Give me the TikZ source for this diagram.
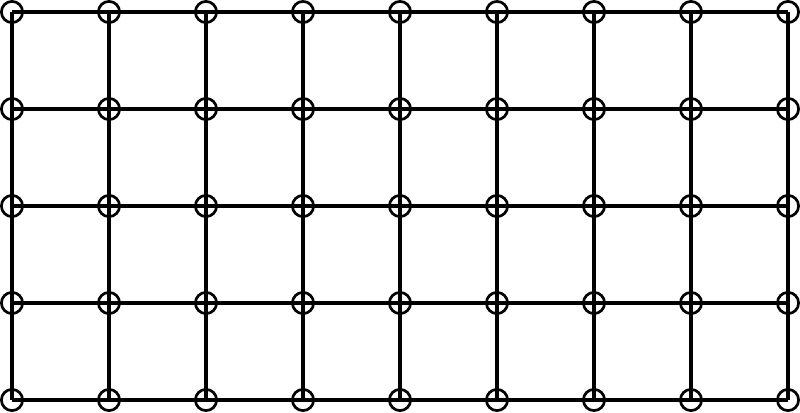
\documentclass[tikz,border=0pt]{standalone}
\usepackage{tikz}

\tikzset{
  site/.style={circle, draw, line width=1.9pt, inner sep=0pt, minimum size=0.53cm},
  bond/.style={line width=2.85pt}
}

\begin{document}
\begin{tikzpicture}
      \useasboundingbox (0,0) rectangle (20,10.3);
      % Define nodes
      \foreach \i in {0,...,8} {
        \foreach \j in {0,...,4} {
          \node[site] (s-\i-\j) at ({0.3+2.425*\i}, {0.3+2.425*\j}) {};
        }
      }
      % Connect the nodes
      \foreach \i [count=\k] in {0,...,7} {
        \foreach \j in {0,...,4} {
          \draw[bond] (s-\i-\j.center) -- (s-\k-\j.center);
        }
      }
      \foreach \i in {0,...,8} {
        \foreach \j [count=\k] in {0,...,3} {
          \draw[bond] (s-\i-\j.center) -- (s-\i-\k.center);
        }
      }
    \end{tikzpicture}
\end{document}
